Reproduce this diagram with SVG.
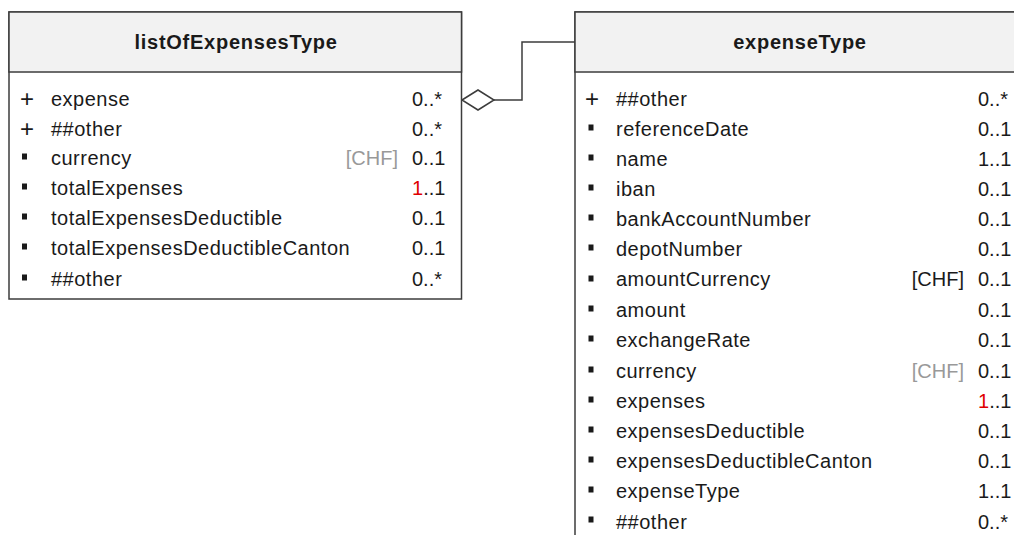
<svg xmlns="http://www.w3.org/2000/svg" width="1014" height="535" viewBox="0 0 1014 535">
<style>
.box{fill:#ffffff;stroke:#3c3c3c;stroke-width:1.5}
.hdr{fill:#f2f2f2;stroke:#3c3c3c;stroke-width:1.5}
.title{font-family:"Liberation Sans",Arial,sans-serif;font-size:20px;font-weight:bold;fill:#1a1a1a;text-anchor:middle;letter-spacing:0.75px}
.t{font-family:"Liberation Sans",Arial,sans-serif;font-size:20px;fill:#1a1a1a;letter-spacing:0.5px}
.m{font-family:"Liberation Sans",Arial,sans-serif;font-size:20px;fill:#1a1a1a}
.p{font-family:"Liberation Sans",Arial,sans-serif;font-size:24px;fill:#1a1a1a}
.d{font-family:"Liberation Sans",Arial,sans-serif;font-size:20px;fill:#1a1a1a;text-anchor:end}
.g{fill:#999999}
.r{fill:#e00000}
.b{fill:#1a1a1a}
.conn{fill:none;stroke:#3c3c3c;stroke-width:1.5}
</style>
<rect width="1014" height="535" fill="#ffffff"/>
<g id="connectors">
<polygon class="conn" points="462,100 478,90 494,100 478,110" fill="#ffffff"/>
<polyline class="conn" points="494,100 522,100 522,42 575,42"/>
</g>
<g id="listOfExpensesType">
<rect class="box" x="9" y="12" width="452.5" height="287"/>
<rect class="hdr" x="9" y="12" width="452.5" height="60"/>
<text class="title" x="236" y="49">listOfExpensesType</text>
<text class="p" x="20" y="106.5">+</text><text class="t" x="51" y="105.5">expense</text><text class="m" x="412" y="105.5">0..*</text>
<text class="p" x="20" y="136.5">+</text><text class="t" x="51" y="135.5">##other</text><text class="m" x="412" y="135.5">0..*</text>
<rect class="b" x="22" y="153.5" width="5" height="6"/><text class="t" x="51" y="165">currency</text><text class="d g" x="398" y="165">[CHF]</text><text class="m" x="412" y="165">0..1</text>
<rect class="b" x="22" y="183.5" width="5" height="6"/><text class="t" x="51" y="195">totalExpenses</text><text class="m" x="412" y="195"><tspan class="r">1</tspan>..1</text>
<rect class="b" x="22" y="213.5" width="5" height="6"/><text class="t" x="51" y="225">totalExpensesDeductible</text><text class="m" x="412" y="225">0..1</text>
<rect class="b" x="22" y="243.5" width="5" height="6"/><text class="t" x="51" y="255">totalExpensesDeductibleCanton</text><text class="m" x="412" y="255">0..1</text>
<rect class="b" x="22" y="274.5" width="5" height="6"/><text class="t" x="51" y="285.5">##other</text><text class="m" x="412" y="285.5">0..*</text>
</g>
<g id="expenseType">
<rect class="box" x="575" y="12" width="460" height="540"/>
<rect class="hdr" x="575" y="12" width="460" height="60"/>
<text class="title" x="800" y="49">expenseType</text>
<text class="p" x="585" y="106.5">+</text><text class="t" x="616" y="105.5">##other</text><text class="m" x="978" y="105.5">0..*</text>
<rect class="b" x="588.5" y="124.5" width="5" height="6"/><text class="t" x="616" y="135.6">referenceDate</text><text class="m" x="978" y="135.6">0..1</text>
<rect class="b" x="588.5" y="154.5" width="5" height="6"/><text class="t" x="616" y="165.8">name</text><text class="m" x="978" y="165.8">1..1</text>
<rect class="b" x="588.5" y="184.5" width="5" height="6"/><text class="t" x="616" y="195.9">iban</text><text class="m" x="978" y="195.9">0..1</text>
<rect class="b" x="588.5" y="214.5" width="5" height="6"/><text class="t" x="616" y="226.1">bankAccountNumber</text><text class="m" x="978" y="226.1">0..1</text>
<rect class="b" x="588.5" y="244.5" width="5" height="6"/><text class="t" x="616" y="256.2">depotNumber</text><text class="m" x="978" y="256.2">0..1</text>
<rect class="b" x="588.5" y="275.5" width="5" height="6"/><text class="t" x="616" y="286.4">amountCurrency</text><text class="d" x="964" y="286.4">[CHF]</text><text class="m" x="978" y="286.4">0..1</text>
<rect class="b" x="588.5" y="305.5" width="5" height="6"/><text class="t" x="616" y="316.5">amount</text><text class="m" x="978" y="316.5">0..1</text>
<rect class="b" x="588.5" y="335.5" width="5" height="6"/><text class="t" x="616" y="346.7">exchangeRate</text><text class="m" x="978" y="346.7">0..1</text>
<rect class="b" x="588.5" y="366.5" width="5" height="6"/><text class="t" x="616" y="377.8">currency</text><text class="d g" x="964" y="377.8">[CHF]</text><text class="m" x="978" y="377.8">0..1</text>
<rect class="b" x="588.5" y="396.5" width="5" height="6"/><text class="t" x="616" y="408">expenses</text><text class="m" x="978" y="408"><tspan class="r">1</tspan>..1</text>
<rect class="b" x="588.5" y="426.5" width="5" height="6"/><text class="t" x="616" y="438.1">expensesDeductible</text><text class="m" x="978" y="438.1">0..1</text>
<rect class="b" x="588.5" y="456.5" width="5" height="6"/><text class="t" x="616" y="468.3">expensesDeductibleCanton</text><text class="m" x="978" y="468.3">0..1</text>
<rect class="b" x="588.5" y="486.5" width="5" height="6"/><text class="t" x="616" y="498.4">expenseType</text><text class="m" x="978" y="498.4">1..1</text>
<rect class="b" x="588.5" y="516.5" width="5" height="6"/><text class="t" x="616" y="528.6">##other</text><text class="m" x="978" y="528.6">0..*</text>
</g>
</svg>
